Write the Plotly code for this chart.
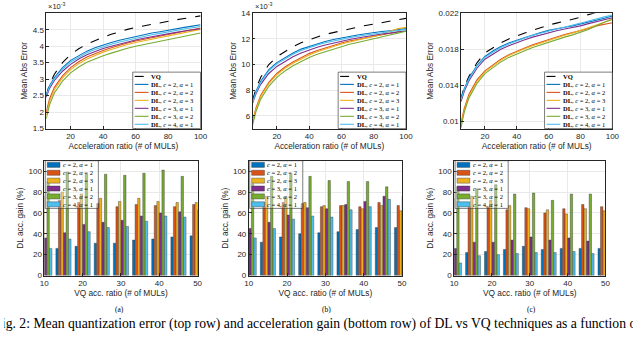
import plotly.graph_objects as go

W, H = 640, 337

# ---------------- data: top row (mean abs error, in units of 1e-3) ----------------
acc_ratio = [5, 7, 10, 15, 20, 25, 30, 35, 40, 45, 50, 55, 60, 65, 70, 75, 80, 85, 90, 95, 100]

a_vq   = [2.50, 2.85, 3.15, 3.50, 3.75, 3.92, 4.06, 4.17, 4.27, 4.36, 4.44, 4.51, 4.57, 4.62, 4.67, 4.72, 4.76, 4.80, 4.84, 4.88, 4.92]
a_c2a1 = [2.52, 2.80, 3.05, 3.35, 3.57, 3.72, 3.85, 3.95, 4.04, 4.11, 4.18, 4.24, 4.30, 4.35, 4.40, 4.44, 4.49, 4.53, 4.57, 4.61, 4.65]
a_c2a2 = [2.00, 2.40, 2.75, 3.10, 3.35, 3.53, 3.67, 3.78, 3.87, 3.95, 4.03, 4.10, 4.16, 4.21, 4.26, 4.31, 4.36, 4.40, 4.45, 4.50, 4.55]
a_c2a3 = [1.90, 2.32, 2.68, 3.04, 3.29, 3.47, 3.61, 3.72, 3.82, 3.90, 3.98, 4.05, 4.11, 4.16, 4.21, 4.26, 4.31, 4.36, 4.41, 4.46, 4.51]
a_c3a1 = [2.45, 2.72, 2.96, 3.24, 3.45, 3.61, 3.74, 3.84, 3.93, 4.00, 4.07, 4.13, 4.19, 4.24, 4.29, 4.33, 4.38, 4.42, 4.46, 4.50, 4.53]
a_c3a2 = [1.80, 2.22, 2.58, 2.94, 3.19, 3.37, 3.51, 3.62, 3.71, 3.79, 3.87, 3.94, 4.00, 4.05, 4.10, 4.15, 4.20, 4.25, 4.30, 4.35, 4.40]
a_c4a1 = [2.50, 2.77, 3.01, 3.30, 3.52, 3.67, 3.80, 3.90, 3.99, 4.06, 4.13, 4.19, 4.25, 4.30, 4.35, 4.39, 4.44, 4.48, 4.52, 4.56, 4.60]

b_vq   = [7.20, 8.10, 9.00, 10.00, 10.60, 11.00, 11.40, 11.70, 11.95, 12.15, 12.35, 12.50, 12.65, 12.80, 12.92, 13.05, 13.15, 13.28, 13.38, 13.50, 13.60]
b_c2a1 = [7.10, 7.90, 8.70, 9.60, 10.15, 10.55, 10.90, 11.20, 11.42, 11.62, 11.80, 11.95, 12.08, 12.20, 12.30, 12.40, 12.50, 12.57, 12.64, 12.72, 12.80]
b_c2a2 = [5.60, 6.60, 7.60, 8.60, 9.30, 9.80, 10.20, 10.55, 10.85, 11.10, 11.30, 11.50, 11.68, 11.83, 11.95, 12.10, 12.22, 12.32, 12.45, 12.55, 12.60]
b_c2a3 = [5.50, 6.50, 7.50, 8.50, 9.20, 9.70, 10.10, 10.45, 10.75, 11.00, 11.22, 11.42, 11.60, 11.75, 11.90, 12.05, 12.20, 12.35, 12.60, 12.80, 12.90]
b_c3a1 = [7.00, 7.70, 8.45, 9.30, 9.85, 10.25, 10.60, 10.90, 11.15, 11.35, 11.52, 11.68, 11.82, 11.95, 12.07, 12.18, 12.28, 12.38, 12.45, 12.55, 12.62]
b_c3a2 = [5.30, 6.30, 7.30, 8.30, 9.00, 9.50, 9.90, 10.25, 10.55, 10.80, 11.00, 11.20, 11.40, 11.58, 11.72, 11.85, 12.00, 12.15, 12.30, 12.45, 12.60]
b_c4a1 = [7.05, 7.80, 8.60, 9.50, 10.05, 10.45, 10.80, 11.10, 11.33, 11.53, 11.70, 11.85, 11.98, 12.10, 12.20, 12.30, 12.40, 12.48, 12.56, 12.65, 12.72]

c_vq   = [12.5, 13.8, 15.0, 16.5, 17.6, 18.2, 18.7, 19.15, 19.5, 19.8, 20.1, 20.4, 20.7, 20.9, 21.1, 21.35, 21.55, 21.85, 22.1, 22.35, 22.6]
c_c2a1 = [12.5, 13.6, 14.8, 16.2, 17.2, 17.8, 18.3, 18.7, 19.0, 19.3, 19.6, 19.85, 20.1, 20.3, 20.45, 20.6, 20.8, 21.0, 21.2, 21.45, 21.7]
c_c2a2 = [9.8, 11.4, 13.0, 14.6, 15.6, 16.3, 16.9, 17.4, 17.8, 18.15, 18.5, 18.8, 19.1, 19.4, 19.65, 19.85, 20.05, 20.3, 20.6, 20.8, 20.95]
c_c2a3 = [9.6, 11.2, 12.8, 14.4, 15.5, 16.2, 16.8, 17.3, 17.7, 18.05, 18.4, 18.7, 19.0, 19.3, 19.55, 19.8, 20.1, 20.4, 20.7, 21.0, 21.4]
c_c3a1 = [12.2, 13.3, 14.5, 15.9, 16.9, 17.5, 18.0, 18.4, 18.75, 19.05, 19.35, 19.6, 19.85, 20.05, 20.25, 20.4, 20.6, 20.85, 21.05, 21.3, 21.5]
c_c3a2 = [9.3, 11.0, 12.6, 14.2, 15.3, 16.0, 16.6, 17.1, 17.5, 17.85, 18.2, 18.5, 18.8, 19.1, 19.35, 19.6, 19.9, 20.2, 20.6, 21.0, 21.3]
c_c4a1 = [12.4, 13.5, 14.7, 16.1, 17.1, 17.7, 18.2, 18.6, 18.95, 19.25, 19.55, 19.8, 20.05, 20.25, 20.45, 20.65, 20.9, 21.15, 21.4, 21.6, 21.8]

# ---------------- data: bottom row (DL acceleration gain, %) ----------------
vq_ratio = [10, 15, 20, 25, 30, 35, 40, 45, 50]

a_bar_c2a1 = [22, 26, 28, 31, 31, 34, 35, 37, 38]
a_bar_c2a2 = [70, 72, 70, 69, 66, 68, 67, 66, 68]
a_bar_c2a3 = [76, 80, 78, 74, 71, 74, 71, 70, 70]
a_bar_c3a1 = [36, 41, 49, 51, 53, 57, 60, 61, 63]
a_bar_c3a2 = [90, 99, 97, 97, 96, 98, 101, 95, 96]
a_bar_c4a1 = [26, 35, 42, 46, 47, 52, 57, 56, 58]

b_bar_c2a1 = [30, 32, 37, 40, 41, 42, 44, 46, 46]
b_bar_c2a2 = [70, 70, 70, 69, 66, 67, 66, 70, 67]
b_bar_c2a3 = [74, 76, 75, 70, 67, 67, 64, 67, 62]
b_bar_c3a1 = [45, 51, 58, 65, 64, 68, 71, 76, 76]
b_bar_c3a2 = [88, 95, 97, 95, 91, 90, 90, 85, 85]
b_bar_c4a1 = [36, 45, 54, 57, 56, 63, 66, 73, 73]

c_bar_c2a1 = [20, 22, 23, 25, 28, 25, 26, 26, 26]
c_bar_c2a2 = [64, 66, 66, 63, 65, 60, 64, 68, 66]
c_bar_c2a3 = [74, 76, 72, 67, 64, 63, 59, 64, 62]
c_bar_c3a1 = [26, 32, 32, 34, 37, 34, 36, 33, 33]
c_bar_c3a2 = [85, 83, 87, 78, 79, 72, 78, 78, 78]
c_bar_c4a1 = [12, 19, 20, 21, 22, 22, 23, 21, 21]

config_labels = ["<i>c</i> = 2, <i>α</i> = 1", "<i>c</i> = 2, <i>α</i> = 2", "<i>c</i> = 2, <i>α</i> = 3",
                 "<i>c</i> = 3, <i>α</i> = 1", "<i>c</i> = 3, <i>α</i> = 2", "<i>c</i> = 4, <i>α</i> = 1"]
colors = ["#0072BD", "#D95319", "#EDB120", "#7E2F8E", "#77AC30", "#4DBEEE"]

top_panels = [
    dict(vq=a_vq, dl=[a_c2a1, a_c2a2, a_c2a3, a_c3a1, a_c3a2, a_c4a1], scale=1.0,
         yrange=[1.5, 5.0], tickvals=[1.5, 2, 2.5, 3, 3.5, 4, 4.5], exp=True),
    dict(vq=b_vq, dl=[b_c2a1, b_c2a2, b_c2a3, b_c3a1, b_c3a2, b_c4a1], scale=1.0,
         yrange=[5.0, 14.0], tickvals=[6, 8, 10, 12, 14], exp=True),
    dict(vq=c_vq, dl=[c_c2a1, c_c2a2, c_c2a3, c_c3a1, c_c3a2, c_c4a1], scale=1e-3,
         yrange=[0.0092, 0.022], tickvals=[0.01, 0.014, 0.018, 0.022], exp=False),
]
bottom_panels = [
    [a_bar_c2a1, a_bar_c2a2, a_bar_c2a3, a_bar_c3a1, a_bar_c3a2, a_bar_c4a1],
    [b_bar_c2a1, b_bar_c2a2, b_bar_c2a3, b_bar_c3a1, b_bar_c3a2, b_bar_c4a1],
    [c_bar_c2a1, c_bar_c2a2, c_bar_c2a3, c_bar_c3a1, c_bar_c3a2, c_bar_c4a1],
]
panel_tags = ["(a)", "(b)", "(c)"]
caption = "Fig. 2: Mean quantization error (top row) and acceleration gain (bottom row) of DL vs VQ techniques as a function of"

# ---------------- layout geometry (pixels) ----------------
top_x = [(43, 200), (253, 409), (465, 619)]
top_y = (9.5, 128)
bot_x = [(41, 197), (249, 405), (458, 612)]
bot_y = (161, 279)
tag_x = [118, 328, 537]

def px(x):
    return x / W

def py(y):
    return 1 - y / H

AX = "#262626"
SANS = "Liberation Sans, Arial, sans-serif"
SERIF = "Liberation Serif, Times New Roman, serif"
TICK = 8
LAB = 8.3

fig = go.Figure()
layout = {}
shapes = []
annotations = []

def axis_style(domain):
    return dict(domain=domain, showline=True, mirror=True, linecolor=AX, linewidth=0.6,
                ticks="inside", ticklen=3, tickwidth=0.6, tickcolor=AX, showgrid=True,
                gridcolor="#e9e9e9", gridwidth=0.6, zeroline=False,
                tickfont=dict(family=SANS, size=TICK, color=AX))

for i, p in enumerate(top_panels):
    n = i + 1
    xa = "x" if n == 1 else f"x{n}"
    ya = "y" if n == 1 else f"y{n}"
    fig.add_trace(go.Scatter(x=acc_ratio, y=[v * p["scale"] for v in p["vq"]], mode="lines",
                             line=dict(color="black", width=1.1, dash="dash"),
                             xaxis=xa, yaxis=ya, showlegend=False))
    for k, series in enumerate(p["dl"]):
        fig.add_trace(go.Scatter(x=acc_ratio, y=[v * p["scale"] for v in series], mode="lines",
                                 line=dict(color=colors[k], width=1.1),
                                 xaxis=xa, yaxis=ya, showlegend=False))
    xs = axis_style([px(top_x[i][0]), px(top_x[i][1])])
    xs.update(range=[5, 100], tickvals=[20, 40, 60, 80, 100], anchor=ya,
              title=dict(text="Acceleration ratio (# of MULs)", font=dict(family=SANS, size=LAB, color=AX), standoff=1))
    ys = axis_style([py(top_y[1]), py(top_y[0])])
    ys.update(range=p["yrange"], tickvals=p["tickvals"], anchor=xa,
              title=dict(text="Mean Abs Error", font=dict(family=SANS, size=LAB, color=AX), standoff=3))
    layout["xaxis" if n == 1 else f"xaxis{n}"] = xs
    layout["yaxis" if n == 1 else f"yaxis{n}"] = ys
    if p["exp"]:
        annotations.append(dict(x=px(top_x[i][0]), y=py(top_y[0] - 0.5), xref="paper", yref="paper",
                                text="×10<sup>-3</sup>", showarrow=False, xanchor="left", yanchor="bottom",
                                font=dict(family=SANS, size=7.5, color=AX)))
    # legend (bottom-right corner)
    lx0, lx1 = top_x[i][1] - 69, top_x[i][1]
    ly0, ly1 = top_y[1] - 58, top_y[1]
    shapes.append(dict(type="rect", xref="paper", yref="paper", x0=px(lx0), x1=px(lx1), y0=py(ly1), y1=py(ly0),
                       line=dict(color=AX, width=0.6), fillcolor="white", layer="above"))
    labels = ["<b>VQ</b>"] + ["<b>DL</b>, " + s for s in config_labels]
    for k, lab in enumerate(labels):
        yc = ly0 + 4.4 + 8.2 * k
        shapes.append(dict(type="line", xref="paper", yref="paper", x0=px(lx0 + 2), x1=px(lx0 + 16),
                           y0=py(yc), y1=py(yc),
                           line=dict(color="black" if k == 0 else colors[k - 1], width=1.1,
                                     dash="dash" if k == 0 else "solid"), layer="above"))
        annotations.append(dict(x=px(lx0 + 17), y=py(yc), xref="paper", yref="paper", text=lab,
                                showarrow=False, xanchor="left", yanchor="middle",
                                font=dict(family=SERIF, size=6.5, color="black")))

for i, bars in enumerate(bottom_panels):
    n = i + 4
    xa, ya = f"x{n}", f"y{n}"
    for k, vals in enumerate(bars):
        fig.add_trace(go.Bar(x=vq_ratio, y=vals, marker=dict(color=colors[k], line=dict(color="#333333", width=0.4)),
                             xaxis=xa, yaxis=ya, showlegend=False))
    xs = axis_style([px(bot_x[i][0]), px(bot_x[i][1])])
    xs.update(range=[10, 50], tickvals=[10, 20, 30, 40, 50], anchor=ya,
              title=dict(text="VQ acc. ratio (# of MULs)", font=dict(family=SANS, size=LAB, color=AX), standoff=1))
    ys = axis_style([py(bot_y[1]), py(bot_y[0])])
    ys.update(range=[0, 110], tickvals=[0, 20, 40, 60, 80, 100], anchor=xa,
              title=dict(text="DL acc. gain (%)", font=dict(family=SANS, size=LAB, color=AX), standoff=3))
    layout[f"xaxis{n}"] = xs
    layout[f"yaxis{n}"] = ys
    # legend (top-left corner, transparent)
    lx0, lx1 = bot_x[i][0] + 1, bot_x[i][0] + 55
    ly0, ly1 = bot_y[0], bot_y[0] + 49
    shapes.append(dict(type="rect", xref="paper", yref="paper", x0=px(lx0), x1=px(lx1), y0=py(ly1), y1=py(ly0),
                       line=dict(color=AX, width=0.6), fillcolor="rgba(255,255,255,0.35)", layer="above"))
    for k, lab in enumerate(config_labels):
        yc = ly0 + 4.3 + 8.1 * k
        shapes.append(dict(type="rect", xref="paper", yref="paper", x0=px(lx0 + 2), x1=px(lx0 + 15),
                           y0=py(yc + 2.6), y1=py(yc - 2.6), fillcolor=colors[k],
                           line=dict(color="#333333", width=0.4), layer="above"))
        annotations.append(dict(x=px(lx0 + 16), y=py(yc), xref="paper", yref="paper", text=lab,
                                showarrow=False, xanchor="left", yanchor="middle",
                                font=dict(family=SERIF, size=6.5, color="black")))
    annotations.append(dict(x=px(tag_x[i]), y=py(314), xref="paper", yref="paper", text=panel_tags[i],
                            showarrow=False, xanchor="center", yanchor="middle",
                            font=dict(family=SERIF, size=7.5, color="black")))

# caption: text on a hidden full-figure pixel axis so that it is clipped at the page edges
fig.add_trace(go.Scatter(x=[319], y=[329], mode="text", text=[caption], textposition="middle center",
                         textfont=dict(family=SERIF, size=13.7, color="black"), cliponaxis=True,
                         xaxis="x7", yaxis="y7", showlegend=False, hoverinfo="skip"))
layout["xaxis7"] = dict(domain=[0, 1], range=[0, W], visible=False, fixedrange=True, anchor="y7")
layout["yaxis7"] = dict(domain=[0, 1], range=[H, 0], visible=False, fixedrange=True, anchor="x7")

fig.update_layout(**layout)
fig.update_layout(width=W, height=H, margin=dict(l=0, r=0, t=0, b=0),
                  paper_bgcolor="white", plot_bgcolor="rgba(0,0,0,0)",
                  barmode="group", bargap=0.2, bargroupgap=0.06,
                  shapes=shapes, annotations=annotations, showlegend=False)

fig.write_html("out.html", config={"displayModeBar": False},
               post_script="document.body.style.margin='0';document.body.style.padding='0';document.body.style.overflow='hidden';")
